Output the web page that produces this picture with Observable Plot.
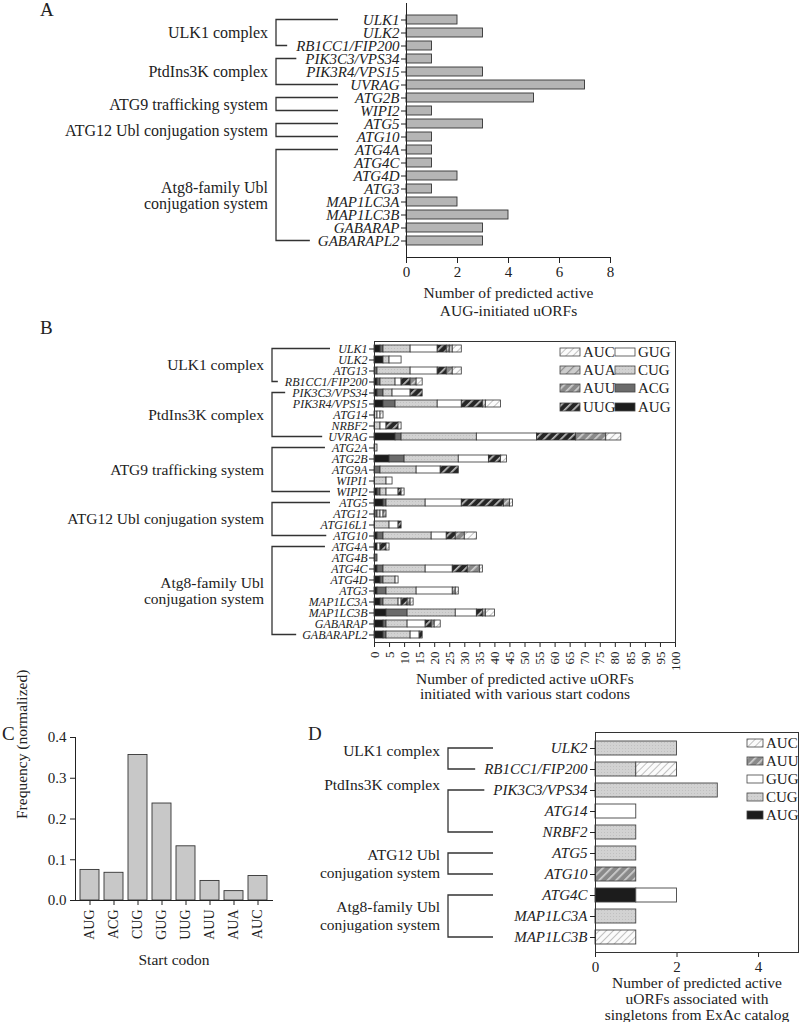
<!DOCTYPE html>
<html><head><meta charset="utf-8">
<script src="https://cdn.jsdelivr.net/npm/d3@7"></script>
<script src="https://cdn.jsdelivr.net/npm/@observablehq/plot@0.6"></script>
<style>
body{margin:0;background:#fff;}
#root{position:relative;width:800px;height:1022px;font-family:"Liberation Serif",serif;color:#222;overflow:hidden;background:#fff}
.plab{position:absolute;font-size:19px;line-height:1;font-family:"Liberation Serif",serif;color:#222}
</style></head><body>
<svg width="0" height="0" style="position:absolute"><defs>
<pattern id="p-UUG" width="6" height="6" patternUnits="userSpaceOnUse" patternTransform="rotate(45)"><rect width="6" height="6" fill="#262626"/><rect width="1.7" height="6" fill="#bdbdbd"/></pattern>
<pattern id="p-AUU" width="6" height="6" patternUnits="userSpaceOnUse" patternTransform="rotate(45)"><rect width="6" height="6" fill="#8a8a8a"/><rect width="1.7" height="6" fill="#cfcfcf"/></pattern>
<pattern id="p-AUA" width="6" height="6" patternUnits="userSpaceOnUse" patternTransform="rotate(45)"><rect width="6" height="6" fill="#cdcdcd"/><rect width="1.2" height="6" fill="#8c8c8c"/></pattern>
<pattern id="p-AUC" width="5" height="5" patternUnits="userSpaceOnUse" patternTransform="rotate(45)"><rect width="5" height="5" fill="#fbfbfb"/><rect width="0.9" height="5" fill="#bbbbbb"/></pattern>
<pattern id="p-CUG" width="3" height="3" patternUnits="userSpaceOnUse"><rect width="3" height="3" fill="#d2d2d2"/><rect x="1" y="1" width="1" height="1" fill="#c0c0c0"/></pattern>
</defs></svg>
<div id="root"></div>
<script>
// ---------- Panel A data ----------
const genesA = ["ULK1","ULK2","RB1CC1/FIP200","PIK3C3/VPS34","PIK3R4/VPS15","UVRAG","ATG2B","WIPI2","ATG5","ATG10","ATG4A","ATG4C","ATG4D","ATG3","MAP1LC3A","MAP1LC3B","GABARAP","GABARAPL2"];
const augCountsA = [2,3,1,1,3,7,5,1,3,1,1,1,2,1,2,4,3,3];
const ticksA = [0,2,4,6,8];
const titleA = "Number of predicted active\nAUG-initiated uORFs";
const groupNamesA = ["ULK1 complex","PtdIns3K complex","ATG9 trafficking system","ATG12 Ubl conjugation system","Atg8-family Ubl\nconjugation system"];
const groupFirstA = ["ULK1","PIK3C3/VPS34","ATG2B","ATG5","ATG4A"];
const groupLastA  = ["RB1CC1/FIP200","UVRAG","WIPI2","ATG10","GABARAPL2"];

// ---------- Panel B data ----------
const genesB = ["ULK1","ULK2","ATG13","RB1CC1/FIP200","PIK3C3/VPS34","PIK3R4/VPS15","ATG14","NRBF2","UVRAG","ATG2A","ATG2B","ATG9A","WIPI1","WIPI2","ATG5","ATG12","ATG16L1","ATG10","ATG4A","ATG4B","ATG4C","ATG4D","ATG3","MAP1LC3A","MAP1LC3B","GABARAP","GABARAPL2"];
const codonsB = ["AUG","ACG","CUG","GUG","UUG","AUU","AUA","AUC"];
const bAUG = [2,3,0,1,1,3,0,0,7,0,5,0,0,1,3,0,0,1,1,0,1,2,1,2,4,3,3];
const bACG = [1,0,1,1,2,4,0,0,2,0,5,2,0,1,1,1,0,2,0,1,2,1,3,1,7,1,1];
const bCUG = [9,2,11,5,3,14,1,2,25,1,18,12,4,2,13,1,5,16,0,0,14,4,10,5,16,7,8];
const bGUG = [9,4,9,2,6,8,1,2,20,0,10,8,2,4,12,1,3,5,1,0,9,1,12,1,7,6,3];
const bUUG = [3,0,3,3,4,7,0,4,13,0,4,6,0,1,14,0,1,3,2,0,5,0,0,2,2,2,1];
const bAUU = [1,0,2,2,0,0,0,0,10,0,0,0,0,0,2,1,0,3,0,0,4,0,1,1,1,1,0];
const bAUA = [1,0,0,0,0,1,0,0,0,0,0,0,0,0,0,0,0,0,0,0,0,0,0,0,0,0,0];
const bAUC = [3,0,3,2,0,5,1,1,5,0,2,0,0,1,1,0,0,4,1,0,1,0,1,1,3,2,0];
const ticksB = d3.range(0, 101, 5);
const titleB = "Number of predicted active uORFs\ninitiated with various start codons";
const legendColsB = [["AUC","AUA","AUU","UUG"],["GUG","CUG","ACG","AUG"]];
const groupNamesB = ["ULK1 complex","PtdIns3K complex","ATG9 trafficking system","ATG12 Ubl conjugation system","Atg8-family Ubl\nconjugation system"];
const groupFirstB = ["ULK1","PIK3C3/VPS34","ATG2A","ATG5","ATG4A"];
const groupLastB  = ["RB1CC1/FIP200","UVRAG","WIPI2","ATG10","GABARAPL2"];

// ---------- Panel C data ----------
const codonsC = ["AUG","ACG","CUG","GUG","UUG","AUU","AUA","AUC"];
const freqC = [0.075,0.068,0.357,0.238,0.133,0.048,0.023,0.060];
const ticksC = [0,0.1,0.2,0.3,0.4];

// ---------- Panel D data ----------
const genesD = ["ULK2","RB1CC1/FIP200","PIK3C3/VPS34","ATG14","NRBF2","ATG5","ATG10","ATG4C","MAP1LC3A","MAP1LC3B"];
const codonsD = ["AUG","CUG","GUG","AUU","AUC"];
const dAUG = [0,0,0,0,0,0,0,1,0,0];
const dCUG = [2,1,3,0,1,1,0,0,1,0];
const dGUG = [0,0,0,1,0,0,0,1,0,0];
const dAUU = [0,0,0,0,0,0,1,0,0,0];
const dAUC = [0,1,0,0,0,0,0,0,0,1];
const ticksD = [0,2,4];
const titleD = "Number of predicted active\nuORFs associated with\nsingletons from ExAc catalog";
const legendColsD = [["AUC","AUU","GUG","CUG","AUG"]];
const groupNamesD = ["ULK1 complex","PtdIns3K complex","ATG12 Ubl\nconjugation system","Atg8-family Ubl\nconjugation system"];
const groupFirstD = ["ULK2","PIK3C3/VPS34","ATG5","ATG4C"];
const groupLastD  = ["RB1CC1/FIP200","NRBF2","ATG10","MAP1LC3B"];

// ---------- styles ----------
const fills = {AUG:"#1c1c1c", ACG:"#6b6b6b", CUG:"url(#p-CUG)", GUG:"#ffffff", UUG:"url(#p-UUG)", AUU:"url(#p-AUU)", AUA:"url(#p-AUA)", AUC:"url(#p-AUC)"};
const FONT = "Liberation Serif";
const baseStyle = {fontFamily: FONT, color: "#222", background: "transparent", overflow: "visible"};

const root = document.getElementById("root");
function place(el, left, top) { el.style.position = "absolute"; el.style.left = left + "px"; el.style.top = top + "px"; root.appendChild(el); return el; }
function panelLabel(t, left, top) { const d = document.createElement("div"); d.className = "plab"; d.textContent = t; d.style.left = left + "px"; d.style.top = top + "px"; root.appendChild(d); }

function addBrackets(plot, names, firsts, lasts, offs, o) {
  const svg = d3.select(plot);
  const r0 = plot.getBoundingClientRect();
  const sy = plot.scale("y");
  const yc = g => sy.apply(g) + sy.bandwidth / 2;
  const starts = new Map();
  svg.selectAll('g[aria-label="y-axis tick label"] text').each(function () {
    starts.set(this.textContent, this.getBoundingClientRect().left - r0.left);
  });
  const gp = svg.append("g").attr("fill", "none").attr("stroke", "#333").attr("stroke-width", 1.3);
  const gt = svg.append("g").attr("font-size", o.fontSize).attr("font-family", FONT).attr("text-anchor", "end").attr("fill", "#222");
  names.forEach((name, i) => {
    const y1 = yc(firsts[i]), y2 = yc(lasts[i]);
    const end = g => Math.min((starts.has(g) ? starts.get(g) : o.xv + o.cap) - o.gap, o.xv + o.cap);
    gp.append("path").attr("d", `M${end(firsts[i])},${y1}H${o.xv}V${y2}H${end(lasts[i])}`);
    const lines = name.split("\n");
    const ym = (y1 + y2) / 2 + (offs[i] || 0) - (lines.length - 1) * o.lh / 2;
    const tx = gt.append("text").attr("x", o.xv - o.pad).attr("y", ym);
    lines.forEach((l, j) => tx.append("tspan").attr("x", o.xv - o.pad).attr("dy", j === 0 ? "0.35em" : o.lh).text(l));
  });
}

function addLegend(plot, cols, xs, ys, o) {
  const g = d3.select(plot).append("g").attr("font-family", FONT).attr("font-size", o.fontSize).attr("fill", "#222").attr("text-anchor", "start");
  cols.forEach((col, ci) => col.forEach((c, ri) => {
    g.append("rect").attr("x", xs[ci]).attr("y", ys[ri] - o.sh / 2).attr("width", o.sw).attr("height", o.sh)
      .attr("fill", fills[c]).attr("stroke", "#444").attr("stroke-width", 0.8);
    g.append("text").attr("x", xs[ci] + o.sw + 3).attr("y", ys[ri]).attr("dy", "0.35em").text(c);
  }));
}

// ---------- Panel A ----------
const rowsA = genesA.map((g, i) => ({gene: g, n: augCountsA[i]}));
const plotA = Plot.plot({
  width: 800, height: 320,
  marginLeft: 406, marginRight: 190, marginTop: 3, marginBottom: 63,
  style: {...baseStyle, fontSize: "15px"},
  x: {domain: [0, 8]},
  y: {domain: genesA, paddingInner: 0.3, paddingOuter: 0.4},
  marks: [
    Plot.barX(rowsA, {x: "n", y: "gene", fill: "#b5b5b5", stroke: "#333", strokeWidth: 0.9}),
    Plot.axisY({fontStyle: "italic", tickSize: 5, tickPadding: 2, fontSize: 15, label: null}),
    Plot.axisX({ticks: ticksA, tickFormat: d3.format("d"), tickSize: 6, fontSize: 15, label: null}),
    Plot.frame({anchor: "left", stroke: "#222"}),
    Plot.frame({anchor: "bottom", stroke: "#222"}),
    Plot.text([titleA], {text: d => d, frameAnchor: "bottom", lineAnchor: "middle", dy: 44, fontSize: 15.5, lineHeight: 1.15})
  ]
});
place(plotA, 0, 0);
addBrackets(plotA, groupNamesA, groupFirstA, groupLastA, [], {xv: 276, cap: 62, gap: 8, pad: 8, fontSize: 16, lh: 16});
panelLabel("A", 40, 0);

// ---------- Panel B ----------
const seriesB = {AUG: bAUG, ACG: bACG, CUG: bCUG, GUG: bGUG, UUG: bUUG, AUU: bAUU, AUA: bAUA, AUC: bAUC};
const rowsB = genesB.flatMap((g, i) => codonsB.map(c => ({gene: g, codon: c, n: seriesB[c][i]}))).filter(d => d.n > 0);
const plotB = Plot.plot({
  width: 800, height: 400,
  marginLeft: 374, marginRight: 125, marginTop: 21, marginBottom: 78,
  style: {...baseStyle, fontSize: "13px"},
  x: {domain: [0, 100]},
  y: {domain: genesB, paddingInner: 0.35, paddingOuter: 0.2},
  color: {type: "ordinal", domain: codonsB, range: codonsB.map(c => fills[c])},
  marks: [
    Plot.barX(rowsB, Plot.stackX({x: "n", y: "gene", fill: "codon", stroke: "#333", strokeWidth: 0.8})),
    Plot.axisY({fontStyle: "italic", tickSize: 5, tickPadding: 2, fontSize: 12, label: null}),
    Plot.axisX({ticks: ticksB, tickFormat: d3.format("d"), tickSize: 5, tickRotate: -90, fontSize: 13, label: null}),
    Plot.frame({stroke: "#333"}),
    Plot.text([titleB], {text: d => d, frameAnchor: "bottom", lineAnchor: "middle", dy: 44, fontSize: 15.5, lineHeight: 1.0})
  ]
});
place(plotB, 0, 320);
addBrackets(plotB, groupNamesB, groupFirstB, groupLastB, [], {xv: 272, cap: 58, gap: 6, pad: 8, fontSize: 15.5, lh: 16});
addLegend(plotB, legendColsB, [560, 615], [32, 50, 68, 87], {fontSize: 15, sw: 20, sh: 8});
panelLabel("B", 40, 318);

// ---------- Panel C ----------
const rowsC = codonsC.map((c, i) => ({codon: c, f: freqC[i]}));
const plotC = Plot.plot({
  width: 300, height: 302,
  marginLeft: 75, marginRight: 28, marginTop: 17, marginBottom: 122,
  style: {...baseStyle, fontSize: "15px"},
  x: {domain: codonsC, paddingInner: 0.22, paddingOuter: 0.1},
  y: {domain: [0, 0.4]},
  marks: [
    Plot.barY(rowsC, {x: "codon", y: "f", fill: "#c8c8c8", stroke: "#333", strokeWidth: 0.9}),
    Plot.axisY({ticks: ticksC, tickFormat: d3.format(".1f"), tickSize: 5, fontSize: 15, label: null}),
    Plot.axisX({tickRotate: -90, tickSize: 5, fontSize: 14, label: null}),
    Plot.frame({anchor: "left", stroke: "#222"}),
    Plot.frame({anchor: "bottom", stroke: "#222"}),
    Plot.text(["Frequency (normalized)"], {text: d => d, frameAnchor: "left", rotate: -90, dx: -53, fontSize: 15.5}),
    Plot.text(["Start codon"], {text: d => d, frameAnchor: "bottom", lineAnchor: "middle", dy: 60, fontSize: 15.5})
  ]
});
place(plotC, 0, 720);
panelLabel("C", 2, 724);

// ---------- Panel D ----------
const seriesD = {AUG: dAUG, CUG: dCUG, GUG: dGUG, AUU: dAUU, AUC: dAUC};
const rowsD = genesD.flatMap((g, i) => codonsD.map(c => ({gene: g, codon: c, n: seriesD[c][i]}))).filter(d => d.n > 0);
const plotD = Plot.plot({
  width: 500, height: 302,
  marginLeft: 295, marginRight: 2, marginTop: 12, marginBottom: 70,
  style: {...baseStyle, fontSize: "15px"},
  x: {domain: [0, 4.98]},
  y: {domain: genesD, paddingInner: 0.35, paddingOuter: 0.2},
  color: {type: "ordinal", domain: codonsD, range: codonsD.map(c => fills[c])},
  marks: [
    Plot.barX(rowsD, Plot.stackX({x: "n", y: "gene", fill: "codon", stroke: "#444", strokeWidth: 0.9})),
    Plot.axisY({fontStyle: "italic", tickSize: 5, tickPadding: 3, fontSize: 15, label: null}),
    Plot.axisX({ticks: ticksD, tickFormat: d3.format("d"), tickSize: 5, fontSize: 15, label: null}),
    Plot.frame({stroke: "#333"}),
    Plot.text([titleD], {text: d => d, frameAnchor: "bottom", lineAnchor: "middle", dy: 46, fontSize: 15.5, lineHeight: 1.04})
  ]
});
place(plotD, 300, 720);
addBrackets(plotD, groupNamesD, groupFirstD, groupLastD, [-8, -26, 0, 0], {xv: 148, cap: 45, gap: 8, pad: 8, fontSize: 15.5, lh: 18});
addLegend(plotD, legendColsD, [447], [23, 41, 59, 77, 95], {fontSize: 15, sw: 16, sh: 8});
panelLabel("D", 308, 724);
</script>
</body></html>
